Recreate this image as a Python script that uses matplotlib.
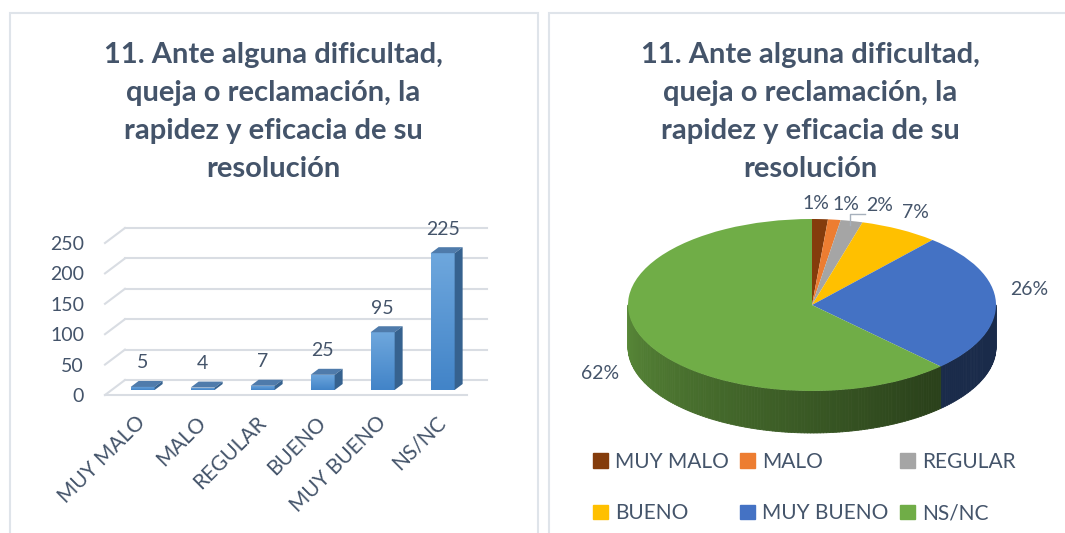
import numpy as np
import matplotlib.pyplot as plt
from matplotlib.patches import Polygon, Rectangle, Patch
from matplotlib.collections import PolyCollection
from matplotlib.colors import LinearSegmentedColormap, to_rgb

plt.rcParams['font.family'] = ['Lato', 'DejaVu Sans']

# data
categories = ['MUY MALO', 'MALO', 'REGULAR', 'BUENO', 'MUY BUENO', 'NS/NC']
counts = [5, 4, 7, 25, 95, 225]
y_ticks = [0, 50, 100, 150, 200, 250]
pie_colors = ['#843c0c', '#ed7d31', '#a5a5a5', '#ffc000', '#4472c4', '#70ad47']
title = '11. Ante alguna dificultad,\nqueja o reclamación, la\nrapidez y eficacia de su\nresolución'

txt_c = '#44546a'
grid_c = '#d9dde3'

W, H = 1065, 533


def fx(px):
    return px / W


def fy(py):
    return 1 - py / H


fig = plt.figure(figsize=(W / 100, H / 100), dpi=100)

# panel frames
for x0, x1 in [(9.5, 538), (549, 1080)]:
    fig.add_artist(Rectangle((fx(x0), fy(560)), fx(x1) - fx(x0), fy(13) - fy(560),
                             transform=fig.transFigure, fill=False, ec='#dfe4ea', lw=1.5))

# titles
for cx in (273, 810):
    fig.text(fx(cx), fy(112), title, ha='center', va='center', fontsize=21,
             fontweight='bold', color=txt_c, linespacing=1.56)

# ---- bar chart with fake depth ----
ax = fig.add_axes([fx(100), fy(400), fx(490) - fx(100), fy(220) - fy(400)])
px_x = 60.0    # pixels per category
px_y = 0.608   # pixels per unit


def ddx(d):
    return 1.33 * d / px_x


def ddy(d):
    return d / px_y


x_front = -0.6 + 5 / px_x
x_back_end = -0.6 + 387 / px_x
for v in y_ticks:
    ax.plot([x_front, x_front + ddx(15)], [v, v + ddy(15)], color=grid_c, lw=1.5, zorder=1)
    ax.plot([x_front + ddx(15), x_back_end], [v + ddy(15)] * 2, color=grid_c, lw=1.5, zorder=1)
ax.plot([x_front, -0.6 + 367 / px_x], [0, 0], color=grid_c, lw=1.5, zorder=1)

xpos = np.arange(len(categories)) + ddx(5)
bars = ax.bar(xpos, counts, width=0.4, bottom=ddy(5), color='#5b9bd5', zorder=3)
cmap = LinearSegmentedColormap.from_list('barg', ['#4284c8', '#6ea7dd'])
grad = np.linspace(0, 1, 64).reshape(-1, 1)
for b, v in zip(bars, counts):
    x0, x1 = b.get_x(), b.get_x() + b.get_width()
    y0, y1 = b.get_y(), b.get_y() + b.get_height()
    im = ax.imshow(grad, extent=[x0, x1, y0, y1], origin='lower', cmap=cmap,
                   aspect='auto', zorder=3.5)
    im.set_clip_path(b)
    ax.add_patch(Polygon([(x0, y1), (x1, y1), (x1 + ddx(6), y1 + ddy(6)), (x0 + ddx(6), y1 + ddy(6))],
                         closed=True, fc='#4f7bab', ec='none', zorder=4))
    ax.add_patch(Polygon([(x1, y0), (x1, y1), (x1 + ddx(6), y1 + ddy(6)), (x1 + ddx(6), y0 + ddy(6))],
                         closed=True, fc='#36628f', ec='none', zorder=4))
    ax.text((x0 + x1) / 2, y1 + 24 / px_y, str(v), ha='center', va='center',
            fontsize=14, color=txt_c)

ax.set_xlim(-0.6, -0.6 + 390 / px_x)
ax.set_ylim(-5 / px_y, 175 / px_y)
ax.set_xticks(xpos, categories, rotation=45, ha='right', va='center', rotation_mode='anchor')
ax.set_yticks(y_ticks, [str(t) for t in y_ticks])
ax.tick_params(length=0, labelsize=14, labelcolor=txt_c)
ax.tick_params(axis='x', pad=14, labelsize=15)
ax.tick_params(axis='y', pad=11.5)
for s in ax.spines.values():
    s.set_visible(False)

# ---- 3D-looking pie ----
pax = fig.add_axes([fx(560), fy(450), fx(1064) - fx(560), fy(190) - fy(450)])
wedges, _ = pax.pie(counts, colors=pie_colors, startangle=90, counterclock=False,
                    wedgeprops=dict(lw=0, zorder=2))
pax.set_aspect('auto')
rx, ry = 184.0, 86.0
pax.set_xlim((560 - 812) / rx, (1064 - 812) / rx)
pax.set_ylim((305 - 450) / ry, (305 - 190) / ry)
depth = 42 / ry

polys, cols = [], []
for w, c in zip(wedges, pie_colors):
    base = np.array(to_rgb(c))
    for k in range(-2, 2):
        a = max(w.theta1, 180 + 360 * k)
        b = min(w.theta2, 360 + 360 * k)
        if b <= a:
            continue
        th = np.linspace(a, b, int(np.ceil(b - a)) + 1)
        for t0, t1 in zip(th[:-1], th[1:]):
            r0, r1 = np.radians(t0), np.radians(t1)
            polys.append([(np.cos(r0), np.sin(r0)), (np.cos(r1), np.sin(r1)),
                          (np.cos(r1), np.sin(r1) - depth), (np.cos(r0), np.sin(r0) - depth)])
            phi = ((t0 + t1) / 2) % 360
            f = 0.8 - 0.42 * min((phi - 180) / 130, 1)
            cols.append(tuple(base * f))
pax.add_collection(PolyCollection(polys, facecolors=cols, edgecolors=cols, lw=0.6, zorder=0.5))

tot = sum(counts)
pcts = [f'{round(100 * v / tot)}%' for v in counts]
nudges = [(-6, 0), (8, 0), (21, 0), (0, -3), (0, -12), (-11, 9)]  # pixels
for w, p, (nx, ny) in zip(wedges, pcts, nudges):
    m = np.radians((w.theta1 + w.theta2) / 2)
    lx, ly = 1.18 * np.cos(m), 1.18 * np.sin(m)
    if ly < 0:
        ly -= depth / 2
    pax.text(lx + nx / rx, ly - ny / ry, p, ha='center', va='center', fontsize=14, color=txt_c)

# leader line for REGULAR
m = np.radians((wedges[2].theta1 + wedges[2].theta2) / 2)
p0x, p0y = 0.95 * np.cos(m), 0.95 * np.sin(m)
pax.plot([p0x, p0x, p0x + 15 / rx], [p0y, p0y + 11 / ry, p0y + 11 / ry], color='#a6b0bc', lw=1, zorder=3)

order = [0, 3, 1, 4, 2, 5]
handles = [Patch(color=pie_colors[i]) for i in order]
fig.legend(handles, [categories[i] for i in order], ncol=3, loc='upper left',
           bbox_to_anchor=(fx(593), fy(452)), frameon=False, fontsize=15, labelcolor=txt_c,
           handlelength=0.7, handleheight=0.7, handletextpad=0.35, columnspacing=0.55,
           labelspacing=1.5, borderpad=0, borderaxespad=0)

fig.savefig('out.png', dpi=100)
